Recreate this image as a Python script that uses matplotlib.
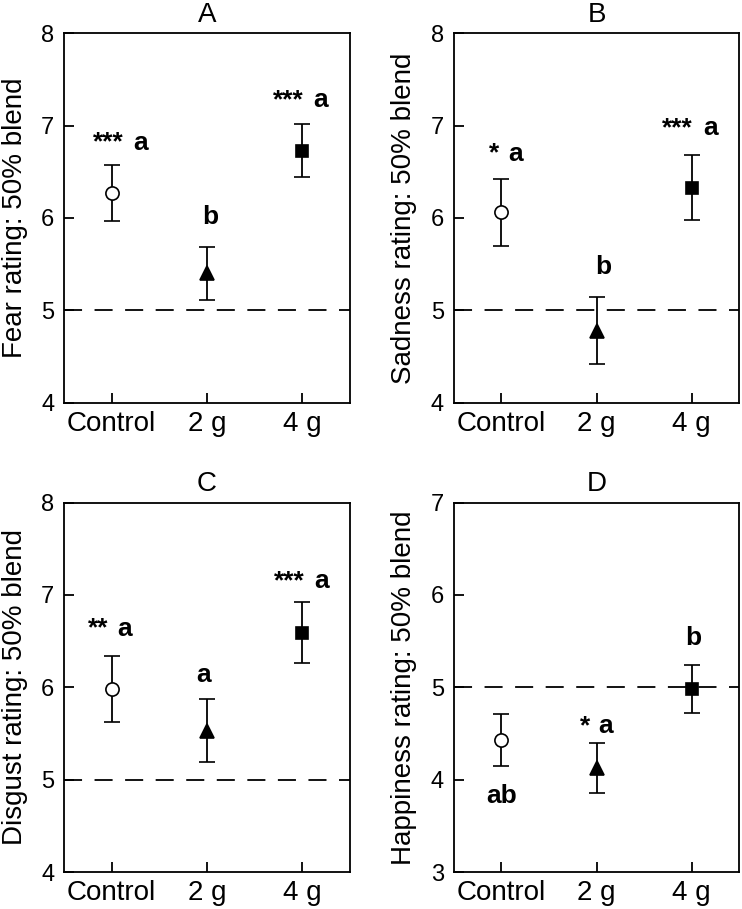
import matplotlib
matplotlib.use("Agg")
import matplotlib.pyplot as plt

plt.rcParams['font.family'] = ['Liberation Sans', 'DejaVu Sans']
plt.rcParams['lines.scale_dashes'] = False

groups = ["Control", "2 g", "4 g"]
markers = ["o", "^", "s"]
panels = ["A", "B", "C", "D"]
ylabels = ["Fear rating: 50% blend", "Sadness rating: 50% blend",
           "Disgust rating: 50% blend", "Happiness rating: 50% blend"]

fear_mean = [6.27, 5.40, 6.73]
fear_se = [0.30, 0.29, 0.29]
sad_mean = [6.06, 4.78, 6.33]
sad_se = [0.36, 0.36, 0.35]
disgust_mean = [5.98, 5.53, 6.59]
disgust_se = [0.36, 0.34, 0.33]
happy_mean = [4.43, 4.13, 4.98]
happy_se = [0.28, 0.27, 0.26]

stars = [["***", "", "***"], ["*", "", "***"], ["**", "", "***"], ["", "*", ""]]
letters = [["a", "b", "a"], ["a", "b", "a"], ["a", "a", "a"], ["ab", "a", "b"]]

means = [fear_mean, sad_mean, disgust_mean, happy_mean]
ses = [fear_se, sad_se, disgust_se, happy_se]
ylims = [(4, 8), (4, 8), (4, 8), (3, 7)]

# layout: axes rectangles in figure fraction
rects = [[0.0863, 0.557, 0.3854, 0.4064], [0.6115, 0.557, 0.3850, 0.4064],
         [0.0863, 0.0407, 0.3854, 0.4064], [0.6115, 0.0407, 0.3850, 0.4064]]
# annotation placement (layout): letter x, letter baseline offset from error bar end, star right-edge x
letter_x = [[1.30, 2.03, 3.19], [1.15, 2.07, 3.20], [1.13, 1.96, 3.20], [1.00, 2.09, 3.02]]
letter_dy = [[0.17, 0.25, 0.18], [0.20, 0.25, 0.22], [0.22, 0.19, 0.15], [-0.40, 0.10, 0.22]]
star_x = [[1.13, None, 3.01], [0.98, None, 3.01], [0.97, None, 3.03], [None, 1.93, None]]

fig = plt.figure(figsize=(7.42, 9.09), dpi=100)
for p in range(4):
    ax = fig.add_axes(rects[p])
    lo, hi = ylims[p]
    ax.axhline(5, color='black', lw=1.3, dashes=(13, 9), zorder=1)
    for i, g in enumerate(groups):
        x = i + 1
        face = 'white' if markers[i] == 'o' else 'black'
        ax.errorbar([x], [means[p][i]], yerr=[ses[p][i]], fmt=markers[i],
                    color='black', mfc=face, mec='black', ms=9.5 if markers[i] != 's' else 9,
                    mew=1.2, capsize=6, capthick=1.3, elinewidth=1.3, zorder=3)
        top = means[p][i] + ses[p][i]
        bot = means[p][i] - ses[p][i]
        dy = letter_dy[p][i]
        ybase = top + dy if dy >= 0 else bot + dy
        ax.text(letter_x[p][i], ybase, letters[p][i], ha='center', va='baseline',
                fontsize=19, fontweight='bold')
        if stars[p][i]:
            ax.text(star_x[p][i], ybase, stars[p][i], ha='right', va='baseline',
                    fontsize=19, fontweight='bold')
    ax.set_xlim(0.5, 3.5)
    ax.set_ylim(lo, hi)
    ax.set_xticks([1, 2, 3])
    ax.set_xticklabels(groups, fontsize=20)
    ax.set_yticks(range(lo, hi + 1))
    ax.tick_params(axis='y', direction='in', length=7, width=1.3, labelsize=17, pad=7)
    ax.tick_params(axis='x', direction='in', length=7, width=1.3, pad=6)
    for s in ax.spines.values():
        s.set_linewidth(1.3)
    ax.set_title(panels[p], fontsize=20, pad=8)
    ax.set_ylabel(ylabels[p], fontsize=20)
    ax.yaxis.set_label_coords(-0.127, 0.5)

fig.savefig("out.png", dpi=100)
